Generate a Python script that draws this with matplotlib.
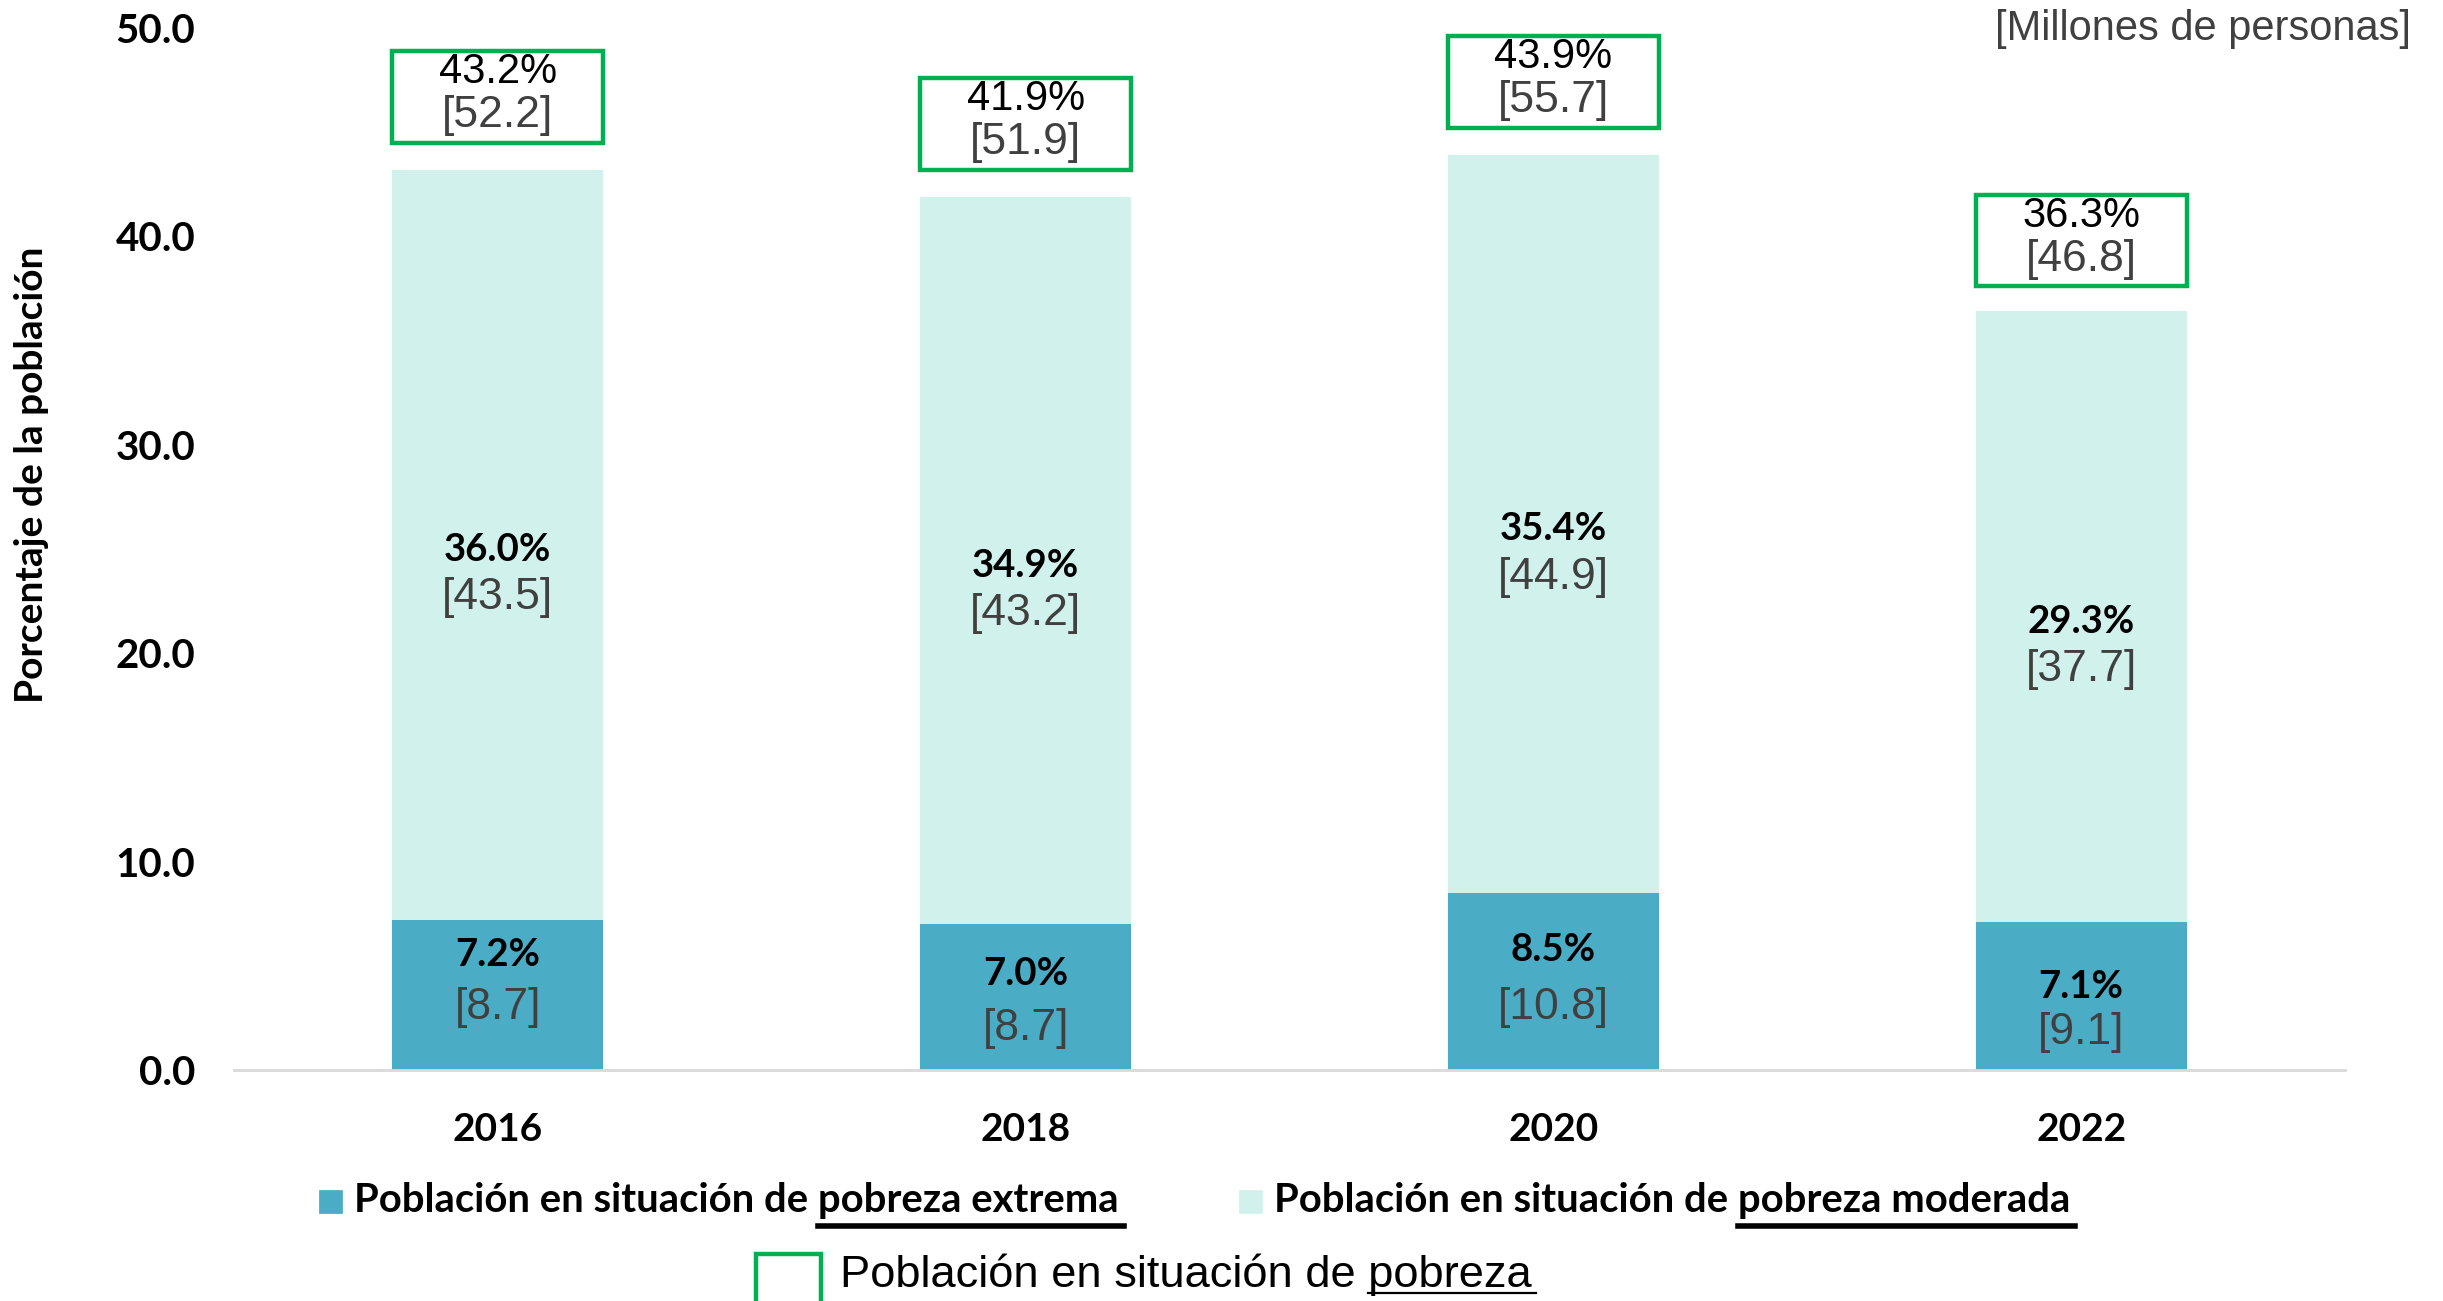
import matplotlib
matplotlib.use("Agg")
import matplotlib.pyplot as plt
from matplotlib.patches import Rectangle
from matplotlib.lines import Line2D

# datos (porcentaje y millones de personas)
years = ["2016", "2018", "2020", "2022"]
extrema_pct = [7.2, 7.0, 8.5, 7.1]
extrema_mill = [8.7, 8.7, 10.8, 9.1]
moderada_pct = [36.0, 34.9, 35.4, 29.3]
moderada_mill = [43.5, 43.2, 44.9, 37.7]
pobreza_pct = [43.2, 41.9, 43.9, 36.3]
pobreza_mill = [52.2, 51.9, 55.7, 46.8]
yticks = [0, 10, 20, 30, 40, 50]

# alturas de las etiquetas dentro de la barra de pobreza extrema
ext_pct_y = [5.5, 4.6, 5.75, 4.0]
ext_mill_y = [3.0, 2.0, 3.0, 1.8]

c_ext = "#4BACC6"
c_mod = "#D1F2EC"
c_green = "#00B050"
c_grey = "#404040"
bold_font = "Lato"
reg_font = "Liberation Sans"

fig = plt.figure(figsize=(12.215, 6.505), dpi=200)
ax = fig.add_axes([0.0958, 0.1776, 0.8641, 0.8009])

x = list(range(len(years)))
w = 0.4
ax.bar(x, extrema_pct, width=w, color=c_ext)
ax.bar(x, moderada_pct, width=w, bottom=extrema_pct, color=c_mod)

for i in x:
    # etiquetas pobreza extrema
    ax.text(i, ext_pct_y[i], f"{extrema_pct[i]:.1f}%", ha="center", va="center",
            fontsize=13.8, fontweight="bold", family=bold_font, color="black")
    ax.text(i, ext_mill_y[i], f"[{extrema_mill[i]:.1f}]", ha="center", va="center",
            fontsize=16, family=reg_font, color=c_grey)
    # etiquetas pobreza moderada
    mid = extrema_pct[i] + moderada_pct[i] / 2 - 0.25
    ax.text(i, mid, f"{moderada_pct[i]:.1f}%", ha="center", va="center",
            fontsize=13.8, fontweight="bold", family=bold_font, color="black")
    ax.text(i, mid - 2.3, f"[{moderada_mill[i]:.1f}]", ha="center", va="center",
            fontsize=16, family=reg_font, color=c_grey)
    # caja de pobreza total
    top = pobreza_pct[i]
    ax.add_patch(Rectangle((i - w / 2, top + 1.3), w, 4.4, fill=False,
                           edgecolor=c_green, linewidth=1.6, clip_on=False))
    ax.text(i, top + 4.7, f"{pobreza_pct[i]:.1f}%", ha="center", va="center",
            fontsize=15, family=reg_font, color="black")
    ax.text(i, top + 2.6, f"[{pobreza_mill[i]:.1f}]", ha="center", va="center",
            fontsize=16, family=reg_font, color=c_grey)

ax.set_xlim(-0.5, 3.5)
ax.set_ylim(0, 50)
ax.set_yticks(yticks)
ax.set_yticklabels([f"{v:.1f}" for v in yticks])
ax.set_xticks(x)
ax.set_xticklabels(years)
for lab in ax.get_xticklabels():
    lab.set_fontfamily(bold_font)
    lab.set_fontweight("bold")
    lab.set_fontsize(14)
for lab in ax.get_yticklabels():
    lab.set_fontfamily(bold_font)
    lab.set_fontweight("bold")
    lab.set_fontsize(14.5)
ax.tick_params(axis="y", length=0, pad=14)
ax.tick_params(axis="x", length=0, pad=15)
for s in ["top", "right", "left"]:
    ax.spines[s].set_visible(False)
ax.spines["bottom"].set_color("#D9D9D9")
ax.spines["bottom"].set_linewidth(1.0)

fig.text(0.0127, 0.635, "Porcentaje de la población", rotation=90, ha="center",
         va="center", fontsize=14, fontweight="bold", family=bold_font)
fig.text(0.987, 0.978, "[Millones de personas]", ha="right", va="center",
         fontsize=15, family=reg_font, color=c_grey)

# leyenda hecha a mano
renderer = fig.canvas.get_renderer()
W, H = fig.bbox.width, fig.bbox.height


def underline_text(x0, y0, text, tail, ul_y, lw, **kw):
    t = fig.text(x0, y0, text, ha="left", va="center", **kw)
    tt = fig.text(x0, y0, tail, ha="left", va="center", alpha=0, **kw)
    full = t.get_window_extent(renderer)
    part = tt.get_window_extent(renderer)
    x1 = full.x1 / W
    xs = (full.x1 - part.width) / W
    fig.add_artist(Line2D([xs, x1 + 0.002], [ul_y, ul_y], color="black",
                          linewidth=lw, transform=fig.transFigure))


fig.add_artist(Rectangle((0.131, 0.0684), 0.0086, 0.0165, color=c_ext,
                         transform=fig.transFigure))
underline_text(0.145, 0.0769, "Población en situación de pobreza extrema",
               "pobreza extrema", 0.058, 2.0, fontsize=14.4, fontweight="bold",
               family=bold_font)
fig.add_artist(Rectangle((0.5076, 0.0684), 0.0086, 0.0165, color=c_mod,
                         transform=fig.transFigure))
underline_text(0.5215, 0.0769, "Población en situación de pobreza moderada",
               "pobreza moderada", 0.058, 2.0, fontsize=14.4, fontweight="bold",
               family=bold_font)
fig.add_artist(Rectangle((0.3094, -0.02), 0.0266, 0.0561, fill=False,
                         edgecolor=c_green, linewidth=1.6, transform=fig.transFigure))
underline_text(0.3438, 0.0204, "Población en situación de pobreza", "pobreza",
               0.006, 0.8, fontsize=16.3, family=reg_font)

fig.savefig("out.png", dpi=200)
